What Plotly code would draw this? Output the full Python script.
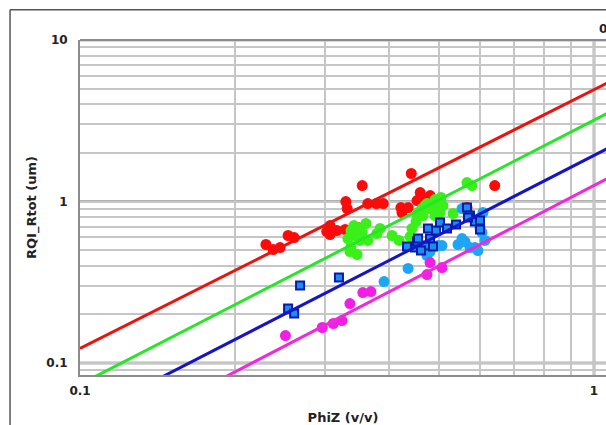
import plotly.graph_objects as go

# ---------------- data ----------------
red_x = [0.230, 0.2375, 0.245, 0.254, 0.261, 0.302, 0.3065, 0.3065, 0.316, 0.328,
         0.329, 0.331, 0.354, 0.363, 0.377, 0.389, 0.3475, 0.421, 0.423, 0.435,
         0.441, 0.4525, 0.459, 0.463, 0.480, 0.566, 0.641]
red_y = [0.542, 0.504, 0.519, 0.616, 0.598, 0.652, 0.710, 0.625, 0.661, 0.671,
         1.000, 0.905, 1.256, 0.972, 0.972, 0.972, 0.690, 0.918, 0.855, 0.918,
         1.491, 1.014, 1.137, 1.059, 1.089, 0.918, 1.256]

green_x = [0.332, 0.3367, 0.335, 0.346, 0.3367, 0.341, 0.346, 0.354, 0.360, 0.343,
           0.3505, 0.363, 0.378, 0.3835, 0.4046, 0.4175, 0.4385, 0.4426, 0.4506, 0.4525,
           0.4627, 0.469, 0.4797, 0.4905, 0.5038, 0.5082, 0.4927, 0.4732, 0.4546, 0.4648,
           0.5016, 0.5318, 0.5686, 0.566, 0.5788, 0.4905]
green_y = [0.590, 0.526, 0.490, 0.470, 0.661, 0.710, 0.690, 0.643, 0.731, 0.616,
           0.574, 0.574, 0.634, 0.681, 0.616, 0.574, 0.607, 0.681, 0.752, 0.819,
           0.905, 0.944, 0.905, 1.029, 1.059, 0.944, 0.958, 0.972, 0.855, 0.819,
           0.855, 0.843, 0.855, 1.311, 1.256, 0.819]

lblue_x = [0.3904, 0.4348, 0.4732, 0.4797, 0.4971, 0.5061, 0.5438, 0.5536, 0.561,
           0.5866, 0.5946, 0.5737, 0.5536, 0.6053, 0.6137, 0.600, 0.6081]
lblue_y = [0.3196, 0.385, 0.463, 0.490, 0.534, 0.534, 0.542, 0.590, 0.565,
           0.519, 0.497, 0.519, 0.905, 0.643, 0.574, 0.690, 0.855]

blue_x = [0.268, 0.254, 0.261, 0.319, 0.4327, 0.4486, 0.4525, 0.469, 0.4546, 0.4797,
          0.4753, 0.4927, 0.5016, 0.5176, 0.539, 0.566, 0.5737, 0.5866, 0.600, 0.600,
          0.4861, 0.4607, 0.5686]
blue_y = [0.302, 0.2175, 0.2025, 0.338, 0.526, 0.519, 0.565, 0.534, 0.590, 0.590,
          0.681, 0.661, 0.741, 0.681, 0.720, 0.918, 0.819, 0.752, 0.763, 0.671,
          0.526, 0.497, 0.796]

magenta_x = [0.251, 0.296, 0.311, 0.3234, 0.335, 0.355, 0.368, 0.4732, 0.4797, 0.5061]
magenta_y = [0.148, 0.166, 0.1757, 0.1833, 0.2335, 0.273, 0.277, 0.353, 0.419, 0.390]

# iso-lines (value at each end of line_x)
line_x = [0.1, 1.2]
red_line = [0.123, 6.6]
green_line = [0.0738, 4.3]
blue_line = [0.045, 2.6]
magenta_line = [0.028, 1.7]

x_ticks = [0.1, 0.2, 0.3, 0.4, 0.5, 0.6, 0.7, 0.8, 0.9, 1.0]
x_labels = ["0.1", "", "", "", "", "", "", "", "", "1"]
y_ticks = [0.09, 0.1, 0.2, 0.3, 0.4, 0.5, 0.6, 0.7, 0.8, 0.9,
           1, 2, 3, 4, 5, 6, 7, 8, 9, 10]
y_labels = ["", "0.1", "", "", "", "", "", "", "", "",
            "1", "", "", "", "", "", "", "", "", "10"]
decades_x = [1.0]
decades_y = [0.1, 1, 10]

# ---------------- figure ----------------
fig = go.Figure()

fig.add_trace(go.Scatter(x=red_x, y=red_y, mode="markers",
                         marker=dict(color="#ff0a0a", size=11, line=dict(width=0))))
fig.add_trace(go.Scatter(x=green_x, y=green_y, mode="markers",
                         marker=dict(color="#3bf01a", size=11, line=dict(width=0))))
fig.add_trace(go.Scatter(x=lblue_x, y=lblue_y, mode="markers",
                         marker=dict(color="#1ea6f2", size=11, line=dict(width=0))))
fig.add_trace(go.Scatter(x=blue_x, y=blue_y, mode="markers",
                         marker=dict(color="#1b8cf0", size=8, symbol="square",
                                     line=dict(width=2, color="#0a1aa8"))))
fig.add_trace(go.Scatter(x=magenta_x, y=magenta_y, mode="markers",
                         marker=dict(color="#f21ee6", size=11, line=dict(width=0))))

for yv, col in [(red_line, "#e8140f"), (green_line, "#26e626"),
                (blue_line, "#1414c8"), (magenta_line, "#ee2ae0")]:
    fig.add_trace(go.Scatter(x=line_x, y=yv, mode="lines",
                             line=dict(color=col, width=3)))

tickfont = dict(family="DejaVu Sans", size=12, color="#222222")

fig.update_xaxes(type="log", range=[-1, 0.0233], tickvals=x_ticks,
                 ticktext=["<b>%s</b>" % t if t else "" for t in x_labels],
                 showgrid=True, gridcolor="#c6c6c6", gridwidth=1.5,
                 zeroline=False, showline=True, linecolor="#8c8c8c", linewidth=2,
                 ticks="", tickfont=tickfont, ticklabelstandoff=4, automargin=False,
                 title=dict(text="<b>PhiZ (v/v)</b>", standoff=15,
                            font=dict(family="DejaVu Sans", size=13, color="#222222")))
fig.update_yaxes(type="log", range=[-1.074, 1], tickvals=y_ticks,
                 ticktext=["<b>%s</b>" % t if t else "" for t in y_labels],
                 showgrid=True, gridcolor="#c6c6c6", gridwidth=1.5,
                 zeroline=False, showline=True, linecolor="#8c8c8c", linewidth=2,
                 ticks="", tickfont=tickfont, ticklabelstandoff=8, automargin=False,
                 title=dict(text="<b>RQI_Rtot (um)</b>", standoff=7,
                            font=dict(family="DejaVu Sans", size=13, color="#222222")))

shapes = []
for xv in decades_x:
    shapes.append(dict(type="line", xref="x", yref="paper", x0=xv, x1=xv, y0=0, y1=1,
                       line=dict(color="#b0b0b0", width=3), layer="below"))
for yv in decades_y:
    shapes.append(dict(type="line", xref="paper", yref="y", x0=0, x1=1, y0=yv, y1=yv,
                       line=dict(color="#b0b0b0", width=3), layer="below"))
# plot top border
shapes.append(dict(type="line", xref="paper", yref="paper", x0=0, x1=1.01, y0=1, y1=1,
                   line=dict(color="#8c8c8c", width=2)))
# outer frame (cropped)
shapes.append(dict(type="line", xref="paper", yref="paper", x0=-0.133, x1=1.05,
                   y0=1.09, y1=1.09, line=dict(color="#555555", width=1.5)))
shapes.append(dict(type="line", xref="paper", yref="paper", x0=-0.133, x1=-0.133,
                   y0=1.09, y1=-0.3, line=dict(color="#555555", width=1.5)))

fig.update_layout(
    width=606, height=425,
    margin=dict(l=80, r=0, t=40, b=50, autoexpand=False),
    plot_bgcolor="white", paper_bgcolor="white",
    showlegend=False, shapes=shapes,
    annotations=[dict(text="<b>0</b>", xref="paper", yref="paper", x=0.982, y=1.033,
                      xanchor="left", yanchor="middle", showarrow=False,
                      font=dict(family="DejaVu Sans", size=12, color="#222222"))],
)

fig.write_html("out.html", config={"displayModeBar": False},
               post_script="document.body.style.margin='0';document.body.style.overflow='hidden';")
